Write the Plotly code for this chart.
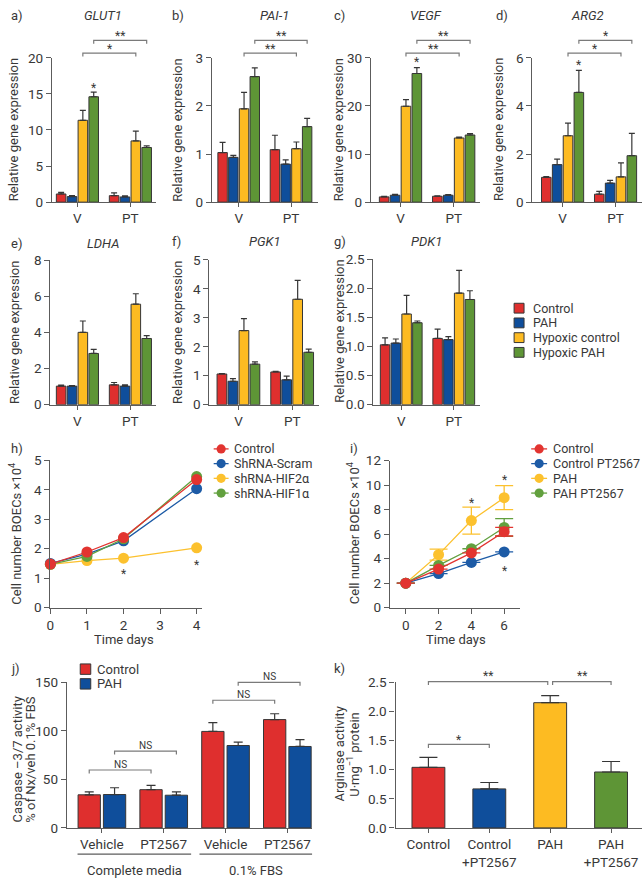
import plotly.graph_objects as go

W, H = 642, 886


def fx(p):
    return p / W


def fy(p):
    return 1 - p / H


FONT = "Roboto, 'Open Sans', Arial, sans-serif"
TXT = "#383838"
AX = "#5c5c5c"
OUT = "#363636"
BRK = "#7a7a7a"
LEG = 12.5

# ---------------- data ----------------
groups = ["V", "PT"]
conditions = ["Control", "PAH", "Hypoxic control", "Hypoxic PAH"]
bar_colors = ["#DF2F2E", "#0F4E9B", "#FDBB22", "#5E9536"]

# rows = condition, columns = [V, PT]
glut1_mean = [[1.13, 0.90], [0.77, 0.72], [11.34, 8.48], [14.60, 7.57]]
glut1_err = [[0.23, 0.37], [0.13, 0.14], [1.36, 1.36], [0.64, 0.23]]
pai1_mean = [[1.03, 1.09], [0.93, 0.79], [1.94, 1.11], [2.61, 1.57]]
pai1_err = [[0.21, 0.30], [0.04, 0.09], [0.34, 0.14], [0.18, 0.17]]
vegf_mean = [[1.09, 1.22], [1.43, 1.43], [19.93, 13.33], [26.73, 13.95]]
vegf_err = [[0.10, 0.10], [0.20, 0.15], [1.36, 0.20], [1.22, 0.27]]
arg2_mean = [[1.03, 0.33], [1.56, 0.79], [2.76, 1.05], [4.56, 1.93]]
arg2_err = [[0.03, 0.12], [0.23, 0.11], [0.52, 0.58], [0.92, 0.93]]
ldha_mean = [[1.03, 1.10], [1.03, 1.03], [4.01, 5.57], [2.84, 3.67]]
ldha_err = [[0.05, 0.13], [0.03, 0.07], [0.63, 0.58], [0.23, 0.16]]
pgk1_mean = [[1.06, 1.13], [0.81, 0.86], [2.56, 3.64], [1.40, 1.81]]
pgk1_err = [[0.01, 0.02], [0.09, 0.13], [0.41, 0.65], [0.08, 0.11]]
pdk1_mean = [[1.03, 1.14], [1.06, 1.12], [1.56, 1.92], [1.41, 1.81]]
pdk1_err = [[0.12, 0.16], [0.07, 0.05], [0.32, 0.39], [0.03, 0.15]]

# panel h: cell number (x10^4) vs days
h_days = [0, 1, 2, 4]
h_control = [1.48, 1.89, 2.38, 4.35]
h_scram = [1.50, 1.82, 2.27, 4.04]
h_hif2a = [1.47, 1.60, 1.68, 2.03]
h_hif1a = [1.47, 1.74, 2.34, 4.45]

# panel i
i_days = [0, 2, 4, 6]
i_control = [2.0, 3.15, 4.47, 6.20]
i_control_err = [0, 0, 0, 0.35]
i_control_pt = [2.0, 2.78, 3.69, 4.55]
i_pah = [2.0, 4.33, 7.11, 8.98]
i_pah_err = [0, 0.45, 1.10, 0.98]
i_pah_pt = [2.0, 3.45, 4.81, 6.55]
i_pah_pt_err = [0, 0, 0, 0.72]

# panel j: caspase-3/7 activity
j_categories = ["Vehicle", "PT2567", "Vehicle", "PT2567"]
j_media = ["Complete media", "0.1% FBS"]
j_control = [34.1, 39.4, 99.4, 111.6]
j_control_err = [3.0, 4.4, 9.0, 6.0]
j_pah = [34.4, 33.7, 84.9, 83.9]
j_pah_err = [7.0, 3.4, 3.4, 7.0]

# panel k: arginase activity
k_categories = ["Control", "Control<br>+PT2567", "PAH", "PAH<br>+PT2567"]
k_values = [1.04, 0.67, 2.15, 0.96]
k_err = [0.17, 0.11, 0.12, 0.18]

# line colours
LR, LB, LY, LG = "#E23430", "#1D5BA6", "#FCC12E", "#62A03E"

fig = go.Figure()
layout = {}
shapes = []
annotations = []

axis_style = dict(showline=True, linecolor=AX, linewidth=1.3, ticks="outside",
                  tickcolor=AX, tickwidth=1.2, showgrid=False, zeroline=False,
                  tickfont=dict(family=FONT, size=13.5, color=TXT), fixedrange=True)


def ann(text, x, y, size=13, xanchor="center", yanchor="middle", angle=0,
        xref="paper", yref="paper", color=TXT):
    annotations.append(dict(text=text, x=x, y=y, xref=xref, yref=yref,
                            xanchor=xanchor, yanchor=yanchor, textangle=angle,
                            showarrow=False,
                            font=dict(family=FONT, size=size, color=color)))


def set_axes(n, xdom, ydom, xrange, yrange, xtickvals, xticktext, ytickvals,
             ytickformat=None, xticklen=4):
    sx = "" if n == 1 else str(n)
    layout["xaxis" + sx] = dict(domain=[fx(xdom[0]), fx(xdom[1])], anchor="y" + sx,
                                range=xrange, tickmode="array", tickvals=xtickvals,
                                ticktext=xticktext, ticklen=xticklen, **axis_style)
    yd = dict(domain=[fy(ydom[1]), fy(ydom[0])], anchor="x" + sx, range=yrange,
              tickmode="array", tickvals=ytickvals, ticklen=5, **axis_style)
    if ytickformat:
        yd["tickformat"] = ytickformat
    layout["yaxis" + sx] = yd
    return ("x" + sx, "y" + sx)


def bracket(xref, x0, x1, ypx, label, size=12, tick=3.5, dy=-4):
    path = (f"M {x0},{fy(ypx + tick)} L {x0},{fy(ypx)} "
            f"L {x1},{fy(ypx)} L {x1},{fy(ypx + tick)}")
    shapes.append(dict(type="path", path=path, xref=xref, yref="paper",
                       line=dict(color=BRK, width=1.2)))
    ann(label, (x0 + x1) / 2, fy(ypx + dy), size=size, xref=xref)


# ---------------- bar panels a-g ----------------
bar_panels = [
    ("a)", "GLUT1", glut1_mean, glut1_err, (48.3, 153.3), (50.7, 197.7), (-0.48, 1.49), [0, 5, 10, 15, 20], None, (5, 8), 100, (9.5, 124)),
    ("b)", "PAI-1", pai1_mean, pai1_err, (209.3, 315.7), (50.7, 197.7), (-0.51, 1.51), [0, 1, 2, 3], None, (167, 8), 272, (175, 124)),
    ("c)", "VEGF", vegf_mean, vegf_err, (369.3, 479), (50.7, 197.7), (-0.555, 1.495), [0, 10, 20, 30], None, (330, 8), 425, (336.7, 124)),
    ("d)", "ARG2", arg2_mean, arg2_err, (531.7, 641.5), (50.7, 197.7), (-0.57, 1.49), [0, 2, 4, 6], None, (493, 8), 587, (498.3, 124)),
    ("e)", "LDHA", ldha_mean, ldha_err, (46.7, 153.3), (257, 404), (-0.51, 1.49), [0, 2, 4, 6, 8], None, (5, 240), 100, (10, 330)),
    ("f)", "PGK1", pgk1_mean, pgk1_err, (206.7, 317), (256.5, 404), (-0.54, 1.5), [0, 1, 2, 3, 4, 5], None, (167, 238), 263, (174, 330)),
    ("g)", "PDK1", pdk1_mean, pdk1_err, (371.7, 479), (256, 404), (-0.53, 1.5), [0, 0.5, 1, 1.5, 2, 2.5], ".1f", (330, 238), 425, (336.7, 329)),
]

for n, (letter, gene, mean, err, xd, yd, xr, yt, yfmt, lpos, tx, ttl) in enumerate(bar_panels, start=1):
    xa, ya = set_axes(n, xd, yd, list(xr), [0, yt[-1]], [0, 1], groups, yt, yfmt)
    for c in range(4):
        fig.add_trace(go.Bar(
            x=[0, 1], y=mean[c], name=conditions[c],
            marker=dict(color=bar_colors[c], line=dict(color=OUT, width=1)),
            error_y=dict(type="data", array=err[c], arrayminus=[0, 0], symmetric=False,
                         color=OUT, thickness=1.2, width=3),
            xaxis=xa, yaxis=ya, showlegend=False))
    ann(letter, fx(lpos[0]), fy(lpos[1]), size=13, xanchor="left")
    ann(f"<i>{gene}</i>", fx(tx), fy(lpos[1]), size=13)
    ann("Relative gene expression", fx(ttl[0]), fy(ttl[1]), size=13, angle=-90)

# centre offsets of the hypoxic bars within a group (bargap 0.18, 4 bars)
YEL, GRN = 0.1025, 0.3075
top_brackets = {1: ("*", "**"), 2: ("**", "**"), 3: ("**", "**"), 4: ("*", "*")}
for n, (lo, hi) in top_brackets.items():
    xr = "x" if n == 1 else f"x{n}"
    bracket(xr, YEL, 1 + YEL, 46, lo)
    bracket(xr, GRN, 1 + GRN, 33, hi)
for n, ypx in [(1, 79), (3, 53.3), (4, 56)]:
    xr = "x" if n == 1 else f"x{n}"
    ann("*", GRN, fy(ypx + 2), size=12, xref=xr)

# bar legend
for c in range(4):
    row = 305.7 + 15 * c
    shapes.append(dict(type="rect", xref="paper", yref="paper",
                       x0=fx(513.3), x1=fx(523.3), y0=fy(row + 5), y1=fy(row - 5),
                       fillcolor=bar_colors[c], line=dict(color=OUT, width=1)))
    ann(conditions[c], fx(530), fy(row), size=LEG, xanchor="left")

# ---------------- panel h ----------------
xa, ya = set_axes(8, (46.7, 199), (460.7, 610.7), [0, 4.14], [0, 5],
                  [0, 1, 2, 3, 4], ["0", "1", "2", "3", "4"], [0, 1, 2, 3, 4, 5], xticklen=5)
for name, vals, col in [("shRNA-HIF2α", h_hif2a, LY), ("ShRNA-Scram", h_scram, LB),
                        ("shRNA-HIF1α", h_hif1a, LG), ("Control", h_control, LR)]:
    fig.add_trace(go.Scatter(x=h_days, y=vals, name=name, mode="lines+markers",
                             line=dict(color=col, width=1.3), marker=dict(size=11, color=col),
                             cliponaxis=False, xaxis=xa, yaxis=ya, showlegend=False))
ann("*", 2, fy(574 + 2), size=12, xref=xa)
ann("*", 4, fy(565 + 2), size=12, xref=xa)
ann("h)", fx(5), fy(449), size=13, xanchor="left")
ann("Cell number BOECs ×10<sup>4</sup>", fx(11.5), fy(535), size=13, angle=-90)
ann("Time days", fx(121), fy(643), size=13)

h_leg = [("Control", LR), ("ShRNA-Scram", LB), ("shRNA-HIF2α", LY), ("shRNA-HIF1α", LG)]


def line_legend(items, lx0, lx1, mx, tx, rows):
    for (label, col), row in zip(items, rows):
        shapes.append(dict(type="line", xref="paper", yref="paper", x0=fx(lx0), x1=fx(lx1),
                           y0=fy(row), y1=fy(row), line=dict(color=col, width=1.3)))
        shapes.append(dict(type="circle", xref="paper", yref="paper", xsizemode="pixel",
                           ysizemode="pixel", xanchor=fx(mx), yanchor=fy(row),
                           x0=-4.6, x1=4.6, y0=-4.6, y1=4.6, fillcolor=col,
                           line=dict(width=0)))
        ann(label, fx(tx), fy(row), size=LEG, xanchor="left")


line_legend(h_leg, 211, 226, 218.5, 229, [449, 464, 479, 494])

# ---------------- panel i ----------------
xa, ya = set_axes(9, (388.3, 519.3), (461, 610.7), [-0.97, 6.97], [0, 12],
                  [0, 2, 4, 6], ["0", "2", "4", "6"], [0, 2, 4, 6, 8, 10, 12], xticklen=5)
for name, vals, errs, col in [("PAH", i_pah, i_pah_err, LY),
                              ("Control PT2567", i_control_pt, [0, 0, 0, 0], LB),
                              ("PAH PT2567", i_pah_pt, i_pah_pt_err, LG),
                              ("Control", i_control, i_control_err, LR)]:
    fig.add_trace(go.Scatter(x=i_days, y=vals, name=name, mode="lines+markers",
                             line=dict(color=col, width=1.3), marker=dict(size=11, color=col),
                             error_y=dict(type="data", array=errs, color=col, thickness=1.3, width=9),
                             cliponaxis=False, xaxis=xa, yaxis=ya, showlegend=False))
ann("*", 4, fy(502.3 + 2), size=12, xref=xa)
ann("*", 6, fy(478.3 + 2), size=12, xref=xa)
ann("*", 6, fy(571.7 + 2), size=12, xref=xa)
ann("i)", fx(346), fy(449), size=13, xanchor="left")
ann("Cell number BOECs ×10<sup>4</sup>", fx(352), fy(535), size=13, angle=-90)
ann("Time days", fx(455), fy(643), size=13)
i_leg = [("Control", LR), ("Control PT2567", LB), ("PAH", LY), ("PAH PT2567", LG)]
line_legend(i_leg, 530.5, 546.5, 538.5, 550, [449, 464, 479, 494])

# ---------------- panel j ----------------
xa, ya = set_axes(10, (63.3, 310), (686.7, 835), [-0.566, 3.40], [0, 150],
                  [0, 1, 2, 3], j_categories, [0, 50, 100, 150])
fig.add_trace(go.Bar(x=[0, 1, 2, 3], y=j_control, name="Control",
                     marker=dict(color=bar_colors[0], line=dict(color=OUT, width=1)),
                     error_y=dict(type="data", array=j_control_err, arrayminus=[0] * 4,
                                  symmetric=False, color=OUT, thickness=1.2, width=4.5),
                     xaxis=xa, yaxis=ya, showlegend=False))
fig.add_trace(go.Bar(x=[0, 1, 2, 3], y=j_pah, name="PAH",
                     marker=dict(color=bar_colors[1], line=dict(color=OUT, width=1)),
                     error_y=dict(type="data", array=j_pah_err, arrayminus=[0] * 4,
                                  symmetric=False, color=OUT, thickness=1.2, width=4.5),
                     xaxis=xa, yaxis=ya, showlegend=False))
JR, JB = -0.205, 0.205
bracket(xa, JR, 1 + JR, 776, "NS", size=10, dy=-6)
bracket(xa, JB, 1 + JB, 756.7, "NS", size=10, dy=-6)
bracket(xa, 2 + JR, 3 + JR, 705, "NS", size=10, dy=-6)
bracket(xa, 2 + JB, 3 + JB, 686.7, "NS", size=10, dy=-6)
for (x0, x1), label in zip([(74, 188.3), (196.7, 310)], j_media):
    shapes.append(dict(type="line", xref="paper", yref="paper", x0=fx(x0), x1=fx(x1),
                       y0=fy(861.7), y1=fy(861.7), line=dict(color=AX, width=1.1)))
    ann(label, fx((x0 + x1) / 2), fy(878), size=13)
for idx, (label, col) in enumerate([("Control", bar_colors[0]), ("PAH", bar_colors[1])]):
    row = 673.3 + 15 * idx
    shapes.append(dict(type="rect", xref="paper", yref="paper",
                       x0=fx(76.7), x1=fx(87.3), y0=fy(row + 5.3), y1=fy(row - 5.3),
                       fillcolor=col, line=dict(color=OUT, width=1)))
    ann(label, fx(91.7), fy(row), size=13, xanchor="left")
ann("j)", fx(5), fy(673), size=13, xanchor="left")
ann("Caspase –3/7 activity", fx(13.3), fy(765), size=13, angle=-90)
ann("% of Nx/veh 0.1% FBS", fx(26.7), fy(765), size=13, angle=-90)

# ---------------- panel k ----------------
xa, ya = set_axes(11, (394, 641.5), (686.7, 835), [-0.54, 3.5], [0, 2.5],
                  [0, 1, 2, 3], k_categories, [0, 0.5, 1, 1.5, 2, 2.5], ".1f")
fig.add_trace(go.Bar(x=[0, 1, 2, 3], y=k_values, width=0.54, name="Arginase",
                     marker=dict(color=bar_colors, line=dict(color=OUT, width=1)),
                     error_y=dict(type="data", array=k_err, arrayminus=[0] * 4,
                                  symmetric=False, color=OUT, thickness=1.2, width=9),
                     xaxis=xa, yaxis=ya, showlegend=False))
bracket(xa, 0, 1.96, 686, "**", size=12, dy=-6)
bracket(xa, 2.04, 3, 686, "**", size=12, dy=-6)
bracket(xa, 0, 1, 750, "*", size=12, dy=-5)
ann("k)", fx(330), fy(673), size=13, xanchor="left")
ann("Arginase activity", fx(337.3), fy(760), size=13, angle=-90)
ann("U·mg<sup>−1</sup> protein", fx(351.7), fy(760), size=13, angle=-90)

layout.update(dict(
    width=W, height=H, margin=dict(l=0, r=0, t=0, b=0, pad=0),
    paper_bgcolor="white", plot_bgcolor="white",
    barmode="group", bargap=0.18, bargroupgap=0.12,
    showlegend=False, shapes=shapes, annotations=annotations,
    font=dict(family=FONT, size=13, color=TXT),
))
fig.update_layout(**layout)
fig.write_html("out.html", config={"displayModeBar": False},
               post_script="document.body.style.margin='0';document.body.style.padding='0';")
